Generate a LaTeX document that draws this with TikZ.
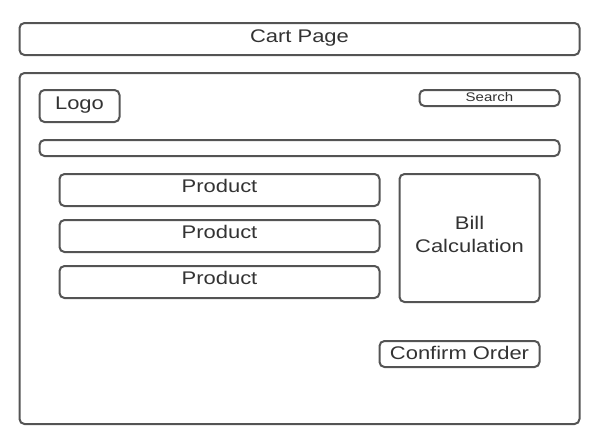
\documentclass[tikz,border=0pt]{standalone}
\usepackage{fontspec}
\setmainfont[FakeStretch=1.2]{Liberation Sans}
\begin{document}
\begin{tikzpicture}[x=1pt,y=-1pt,
  box/.style={draw=black!67, line width=2pt, rounded corners=5pt, inner sep=0pt, anchor=north west},
  txt/.style={inner sep=0pt, font=\fontsize{18.3}{22}\selectfont, text=black!80, align=center, yshift=0.5pt}]
\useasboundingbox (0,0) rectangle (599,442);
\node[box, minimum width=560pt, minimum height=32pt] (title) at (18.5,22) {};
\node[box, minimum width=560pt, minimum height=351pt] (main) at (18.5,72) {};
\node[box, minimum width=80pt, minimum height=32pt] (logo) at (38.5,89) {};
\node[box, minimum width=140pt, minimum height=16pt] (search) at (418.5,89) {};
\node[box, minimum width=520pt, minimum height=16pt] (bar) at (38.5,139) {};
\node[box, minimum width=320pt, minimum height=32pt] (p1) at (58.5,173) {};
\node[box, minimum width=320pt, minimum height=32pt] (p2) at (58.5,219) {};
\node[box, minimum width=320pt, minimum height=32pt] (p3) at (58.5,265) {};
\node[box, minimum width=140pt, minimum height=128pt] (bill) at (398.5,173) {};
\node[box, minimum width=160pt, minimum height=26pt] (confirm) at (378.5,340) {};
\node[txt] (titlet) at (title.center) {Cart Page};
\node[txt] (logot) at (logo.center) {Logo};
\node[txt, font=\fontsize{12.5}{14}\selectfont, yshift=0pt] (searcht) at (search.center) {Search};
\node[txt, yshift=3.5pt] (p1t) at (p1.center) {Product};
\node[txt, yshift=3.5pt] (p2t) at (p2.center) {Product};
\node[txt, yshift=3.5pt] (p3t) at (p3.center) {Product};
\node[txt, yshift=3.5pt] (billt) at (bill.center) {Bill\\[1pt]Calculation};
\node[txt, yshift=1pt] (confirmt) at (confirm.center) {Confirm Order};
\end{tikzpicture}
\end{document}
